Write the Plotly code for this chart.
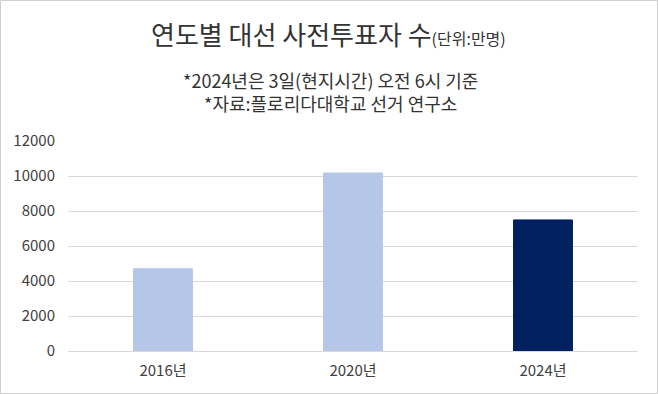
import plotly.graph_objects as go

categories = ["2016년", "2020년", "2024년"]
values = [4700, 10170, 7490]
colors = ["#B4C7E7", "#B4C7E7", "#002060"]
y_ticks = [0, 2000, 4000, 6000, 8000, 10000, 12000]
y_tick_text = ["0", "2000", "4000", "6000", "8000", "10000", "12000"]

FONT = "Noto Sans CJK KR"
TXT = "#404040"
W, H = 658, 394
ML, MR, MT, MB = 68, 20, 141, 43
PW, PH = W - ML - MR, H - MT - MB

fig = go.Figure()
fig.add_trace(go.Bar(
    x=categories, y=values,
    marker=dict(color=colors, line=dict(color=colors, width=1)),
    width=0.31,
))


def py(pix):
    return (H - MB - pix) / PH


def px(pix):
    return (pix - ML) / PW


fig.update_layout(
    width=W, height=H,
    margin=dict(l=ML, r=MR, t=MT, b=MB),
    paper_bgcolor="white", plot_bgcolor="white",
    showlegend=False,
    font=dict(family=FONT, color=TXT, size=15),
    xaxis=dict(showgrid=False, showline=False, ticks="",
               tickfont=dict(size=15, color=TXT), fixedrange=True,
               ticklabelstandoff=9),
    yaxis=dict(range=[0, 12000], tickvals=y_ticks, ticktext=y_tick_text,
               showgrid=True, gridcolor="#D9D9D9", gridwidth=1, zeroline=True,
               zerolinecolor="#D9D9D9", zerolinewidth=1,
               tickfont=dict(size=15, color=TXT), ticks="",
               ticklabelstandoff=12),
    annotations=[
        dict(text="연도별 대선 사전투표자 수<span style='font-size:16px'>(단위:만명)</span>",
             x=px(328), y=py(33), xref="paper", yref="paper", showarrow=False,
             yanchor="middle", font=dict(size=26, color="#333333", family=FONT)),
        dict(text="*2024년은 3일(현지시간) 오전 6시 기준<br>*자료:플로리다대학교 선거 연구소",
             x=px(330), y=py(91.5), xref="paper", yref="paper", showarrow=False,
             yanchor="middle", font=dict(size=18, color="#333333", family=FONT)),
    ],
)

fig.add_shape(type="rect", xref="paper", yref="paper",
              x0=px(0.5), x1=px(W - 0.5), y0=py(H - 0.5), y1=py(0.5),
              line=dict(color="#CFCFCF", width=1))

fig.write_html("out.html", config={"displayModeBar": False},
               post_script="document.body.style.margin='0';document.body.style.overflow='hidden';")
